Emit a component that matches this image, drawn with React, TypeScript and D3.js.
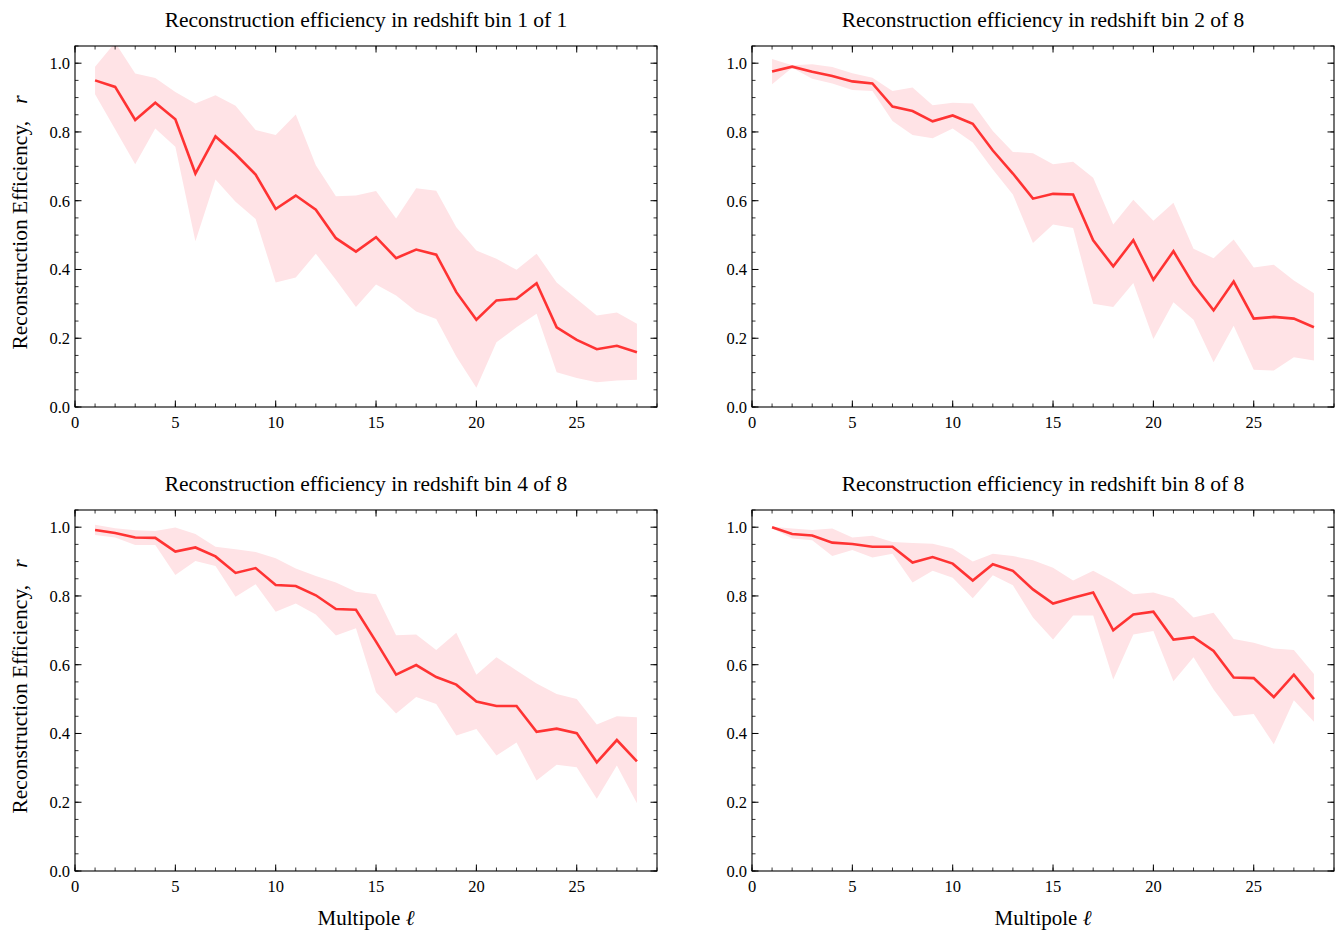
import React from 'react';
import * as d3 from 'd3';

// multipole bins on the x axis
const multipoles = [1, 2, 3, 4, 5, 6, 7, 8, 9, 10, 11, 12, 13, 14, 15, 16, 17, 18, 19, 20, 21, 22, 23, 24, 25, 26, 27, 28];

const xTicks = [0, 5, 10, 15, 20, 25];
const yTicks = [0, 0.2, 0.4, 0.6, 0.8, 1.0];

// bin 1 of 1
const bin1Mean = [0.950, 0.931, 0.835, 0.885, 0.837, 0.679, 0.787, 0.735, 0.676, 0.576, 0.615, 0.574, 0.491, 0.452, 0.494, 0.433, 0.458, 0.443, 0.334, 0.254, 0.310, 0.315, 0.360, 0.232, 0.195, 0.168, 0.178, 0.159];
const bin1Upper = [0.990, 1.060, 0.970, 0.957, 0.916, 0.883, 0.907, 0.876, 0.806, 0.791, 0.851, 0.703, 0.613, 0.615, 0.628, 0.548, 0.636, 0.629, 0.523, 0.455, 0.431, 0.399, 0.446, 0.362, 0.314, 0.266, 0.275, 0.242];
const bin1Lower = [0.910, 0.808, 0.706, 0.810, 0.757, 0.482, 0.662, 0.597, 0.547, 0.362, 0.377, 0.446, 0.370, 0.291, 0.356, 0.324, 0.278, 0.256, 0.147, 0.056, 0.188, 0.232, 0.271, 0.101, 0.084, 0.072, 0.077, 0.079];

// bin 2 of 8
const bin2Mean = [0.976, 0.990, 0.975, 0.963, 0.947, 0.941, 0.874, 0.861, 0.831, 0.848, 0.824, 0.746, 0.679, 0.606, 0.620, 0.618, 0.485, 0.409, 0.485, 0.370, 0.453, 0.356, 0.281, 0.365, 0.257, 0.262, 0.257, 0.232];
const bin2Upper = [1.012, 0.994, 0.997, 0.989, 0.971, 0.958, 0.919, 0.929, 0.878, 0.885, 0.883, 0.803, 0.742, 0.738, 0.706, 0.713, 0.667, 0.531, 0.603, 0.542, 0.594, 0.460, 0.433, 0.487, 0.406, 0.414, 0.368, 0.331];
const bin2Lower = [0.939, 0.987, 0.955, 0.941, 0.922, 0.919, 0.832, 0.791, 0.782, 0.810, 0.769, 0.691, 0.618, 0.477, 0.531, 0.521, 0.300, 0.291, 0.361, 0.198, 0.305, 0.254, 0.130, 0.236, 0.108, 0.106, 0.145, 0.135];

// bin 4 of 8
const bin4Mean = [0.992, 0.983, 0.970, 0.969, 0.929, 0.941, 0.915, 0.867, 0.881, 0.832, 0.829, 0.802, 0.762, 0.760, 0.667, 0.571, 0.599, 0.564, 0.542, 0.493, 0.480, 0.480, 0.405, 0.414, 0.401, 0.316, 0.381, 0.319];
const bin4Upper = [1.007, 0.997, 0.991, 0.989, 0.999, 0.980, 0.943, 0.936, 0.928, 0.910, 0.880, 0.858, 0.839, 0.812, 0.805, 0.686, 0.688, 0.643, 0.693, 0.571, 0.622, 0.583, 0.545, 0.515, 0.500, 0.426, 0.450, 0.447];
const bin4Lower = [0.977, 0.970, 0.948, 0.948, 0.861, 0.902, 0.887, 0.798, 0.834, 0.754, 0.778, 0.746, 0.685, 0.706, 0.520, 0.458, 0.506, 0.486, 0.394, 0.413, 0.336, 0.374, 0.263, 0.309, 0.302, 0.210, 0.307, 0.197];

// bin 8 of 8
const bin8Mean = [1.000, 0.980, 0.976, 0.955, 0.951, 0.943, 0.943, 0.897, 0.913, 0.894, 0.845, 0.892, 0.873, 0.819, 0.778, 0.795, 0.810, 0.700, 0.746, 0.754, 0.673, 0.680, 0.640, 0.563, 0.561, 0.506, 0.571, 0.500];
const bin8Upper = [1.001, 0.996, 0.992, 0.996, 0.970, 0.975, 0.957, 0.954, 0.952, 0.938, 0.900, 0.923, 0.916, 0.904, 0.882, 0.845, 0.873, 0.842, 0.805, 0.810, 0.793, 0.737, 0.751, 0.675, 0.664, 0.647, 0.643, 0.573];
const bin8Lower = [0.997, 0.967, 0.962, 0.916, 0.934, 0.912, 0.923, 0.839, 0.873, 0.853, 0.793, 0.860, 0.831, 0.737, 0.673, 0.743, 0.743, 0.557, 0.688, 0.698, 0.552, 0.622, 0.528, 0.450, 0.457, 0.369, 0.497, 0.434];

const titles = [
  'Reconstruction efficiency in redshift bin 1 of 1',
  'Reconstruction efficiency in redshift bin 2 of 8',
  'Reconstruction efficiency in redshift bin 4 of 8',
  'Reconstruction efficiency in redshift bin 8 of 8',
];

const W = 582;
const H = 361;
const font = '"Liberation Serif", "Times New Roman", serif';

const panels = [
  { title: titles[0], mean: bin1Mean, upper: bin1Upper, lower: bin1Lower, left: 75, top: 46, yLabel: true, xLabel: false },
  { title: titles[1], mean: bin2Mean, upper: bin2Upper, lower: bin2Lower, left: 752, top: 46, yLabel: false, xLabel: false },
  { title: titles[2], mean: bin4Mean, upper: bin4Upper, lower: bin4Lower, left: 75, top: 510, yLabel: true, xLabel: true },
  { title: titles[3], mean: bin8Mean, upper: bin8Upper, lower: bin8Lower, left: 752, top: 510, yLabel: false, xLabel: true },
];

const x = d3.scaleLinear().domain([0, 29]).range([0, W]);
const y = d3.scaleLinear().domain([0, 1.05]).range([H, 0]);
const xMinor = d3.range(0, 30, 1);
const yMinor = d3.range(0, 1.051, 0.05);

function Panel({ p, idx }) {
  const rows = multipoles.map((l, i) => ({ l, m: p.mean[i], hi: p.upper[i], lo: p.lower[i] }));
  const band = d3.area<any>().x((d) => x(d.l)).y0((d) => y(d.lo)).y1((d) => y(d.hi));
  const line = d3.line<any>().x((d) => x(d.l)).y((d) => y(d.m));
  const clipId = `clip${idx}`;
  return (
    <g transform={`translate(${p.left},${p.top})`}>
      <defs>
        <clipPath id={clipId}>
          <rect x={0} y={0} width={W} height={H} />
        </clipPath>
      </defs>
      <g clipPath={`url(#${clipId})`}>
        <path d={band(rows)} fill="#ffe3e6" stroke="none" />
        <path d={line(rows)} fill="none" stroke="#ff3333" strokeWidth={2.6} strokeLinejoin="miter" />
      </g>
      {/* minor ticks */}
      {xMinor.map((t) => (
        <g key={`xm${t}`}>
          <line x1={x(t)} x2={x(t)} y1={H} y2={H - 3.5} stroke="#000" strokeWidth={0.8} />
          <line x1={x(t)} x2={x(t)} y1={0} y2={3.5} stroke="#000" strokeWidth={0.8} />
        </g>
      ))}
      {yMinor.map((t) => (
        <g key={`ym${t}`}>
          <line x1={0} x2={3.5} y1={y(t)} y2={y(t)} stroke="#000" strokeWidth={0.8} />
          <line x1={W} x2={W - 3.5} y1={y(t)} y2={y(t)} stroke="#000" strokeWidth={0.8} />
        </g>
      ))}
      {/* major ticks */}
      {xTicks.map((t) => (
        <g key={`x${t}`}>
          <line x1={x(t)} x2={x(t)} y1={H} y2={H - 6.5} stroke="#000" strokeWidth={1} />
          <line x1={x(t)} x2={x(t)} y1={0} y2={6.5} stroke="#000" strokeWidth={1} />
          <text x={x(t)} y={H + 21} textAnchor="middle" fontSize={16.5} fontFamily={font}>{t}</text>
        </g>
      ))}
      {yTicks.map((t) => (
        <g key={`y${t}`}>
          <line x1={0} x2={6.5} y1={y(t)} y2={y(t)} stroke="#000" strokeWidth={1} />
          <line x1={W} x2={W - 6.5} y1={y(t)} y2={y(t)} stroke="#000" strokeWidth={1} />
          <text x={-5} y={y(t) + 6} textAnchor="end" fontSize={16.5} fontFamily={font}>{t.toFixed(1)}</text>
        </g>
      ))}
      <rect x={0} y={0} width={W} height={H} fill="none" stroke="#000" strokeWidth={1.1} />
      <text x={W / 2} y={-19} textAnchor="middle" fontSize={21.5} fontFamily={font}>{p.title}</text>
      {p.xLabel && (
        <text x={W / 2} y={H + 54} textAnchor="middle" fontSize={21} fontFamily={font}>
          Multipole <tspan fontStyle="italic">ℓ</tspan>
        </text>
      )}
      {p.yLabel && (
        <text transform={`translate(${-48},${H / 2 - 4}) rotate(-90)`} textAnchor="middle" fontSize={21.5} fontFamily={font}>
          Reconstruction Efficiency,<tspan dx={17} fontStyle="italic">r</tspan>
        </text>
      )}
    </g>
  );
}

export default function App() {
  return (
    <svg width={1337} height={930} style={{ position: 'absolute', left: 0, top: 0, background: '#fff' }}>
      <rect width={1337} height={930} fill="#fff" />
      {panels.map((p, i) => (
        <Panel key={i} p={p} idx={i} />
      ))}
    </svg>
  );
}
